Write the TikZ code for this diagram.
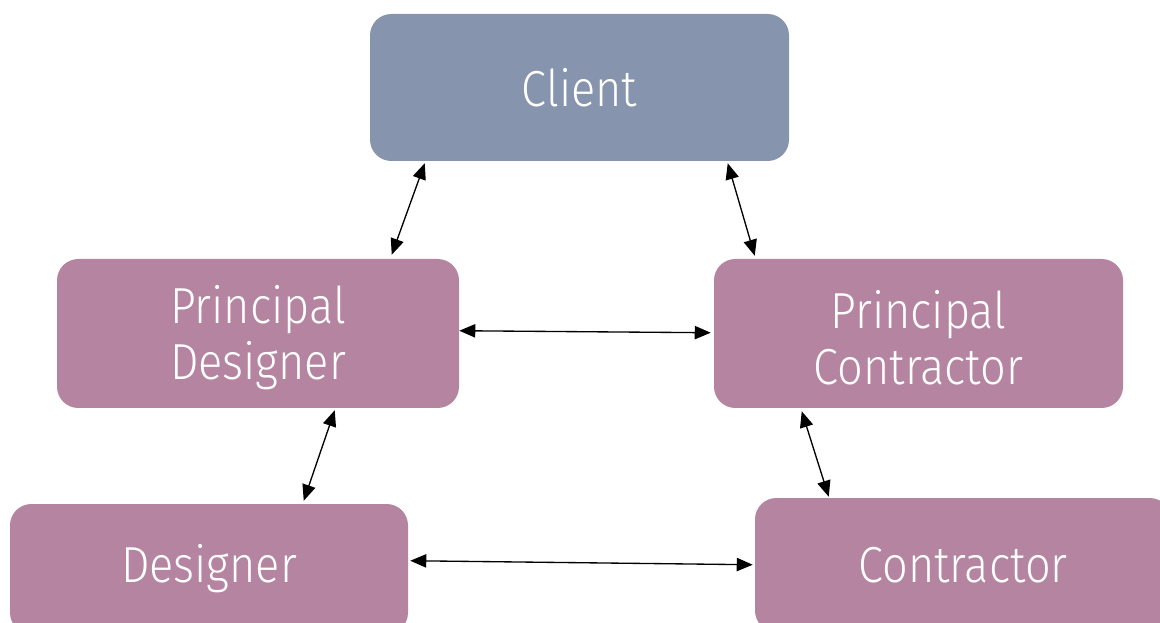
\documentclass[tikz,border=0pt]{standalone}
\usepackage{fontspec}
\setmainfont{Fira Sans}[UprightFont=* Light, FakeStretch=0.89]
\usetikzlibrary{arrows.meta,calc}
\definecolor{clientc}{HTML}{8794AE}
\definecolor{mauve}{HTML}{B584A0}
\tikzset{
  box/.style={draw=none, rounded corners=16pt, text=white, align=center,
    font=\fontsize{38}{42}\selectfont, inner sep=0pt},
  link/.style={{Triangle[length=12pt,width=10pt]}-{Triangle[length=12pt,width=10pt]}, line width=1pt, black}
}
\begin{document}
\begin{tikzpicture}[x=0.75pt,y=-0.75pt]
\useasboundingbox (0,0) rectangle (1160,623);
\clip (0,0) rectangle (1160,623);
\node[box, fill=clientc, minimum width=314.25pt, minimum height=110.25pt] (client) at (579.5,87.5) {Client};
\node[box, fill=mauve, minimum width=301.5pt, minimum height=111.75pt] (pd) at (258,333.5) {};
\node[box, fill=mauve, minimum width=306.75pt, minimum height=111.75pt] (pc) at (918.5,333.5) {};
\node[box, fill=none] (pdt) at (258,338) {Principal\\Designer};
\node[box, fill=none] (pct) at (918.5,338) {Principal\\Contractor};
\node[box, fill=mauve, minimum width=298.5pt, minimum height=97.5pt] (des) at (209,569) {Designer};
\node[box, fill=mauve, minimum width=312pt, minimum height=100.5pt] (con) at (963,565) {Contractor};
\draw[link] ($(client.south west)+(55,2)$) -- ($(pd.north west)+(335,-4)$);
\draw[link] ($(client.south west)+(358,2)$) -- ($(pc.north west)+(41,-3)$);
\draw[link] ($(pd.north east)+(0,72)$) -- ($(pc.north west)+(-3,74)$);
\draw[link] ($(pd.south west)+(278,2)$) -- ($(des.north west)+(294,-3)$);
\draw[link] ($(pc.south west)+(88,3)$) -- ($(con.north west)+(74,-1)$);
\draw[link] ($(des.north east)+(2,57)$) -- ($(con.north west)+(-2,67)$);
\end{tikzpicture}
\end{document}
